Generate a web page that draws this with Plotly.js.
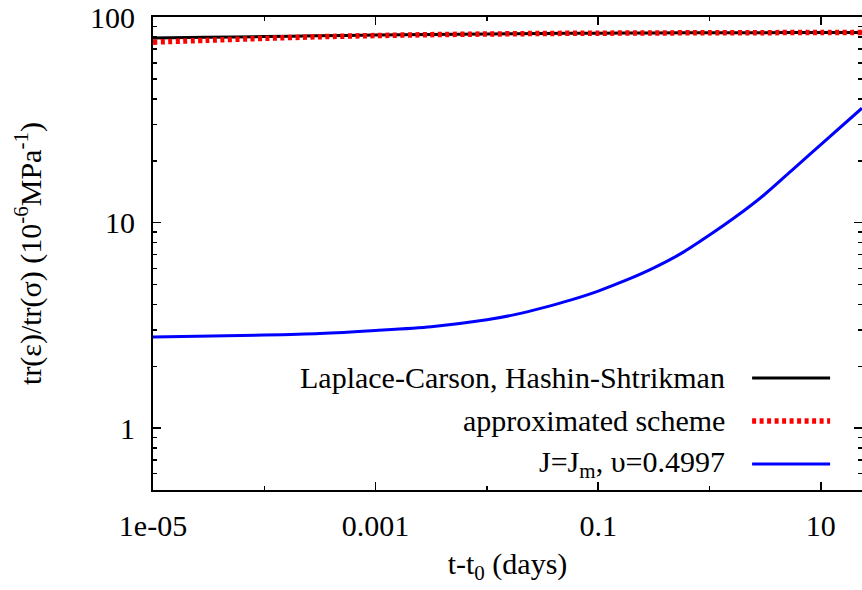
<!DOCTYPE html>
<html>
<head>
<meta charset="utf-8">
<script src="https://cdn.plot.ly/plotly-3.0.1.min.js"></script>
<style>html,body{margin:0;padding:0;background:#fff;}#plot{width:862px;height:590px;}</style>
</head>
<body>
<div id="plot"></div>
<script>
// time (days)
const tLC = [1e-5, 3e-5, 1e-4, 3e-4, 1e-3, 3e-3, 1e-2, 3e-2, 0.1, 0.3, 1, 3, 10, 23.4];
// Laplace-Carson, Hashin-Shtrikman
const yLC = [79.2, 79.9, 80.6, 81.3, 81.9, 82.5, 83.0, 83.4, 83.7, 83.9, 84.1, 84.2, 84.3, 84.4];
// approximated scheme
const yApprox = [75.7, 77.3, 79.0, 80.4, 81.5, 82.3, 82.9, 83.4, 83.7, 83.9, 84.1, 84.2, 84.3, 84.4];
// J=Jm, nu=0.4997
const tJm = [1e-5, 1e-4, 3.16e-4, 1e-3, 3.16e-3, 1e-2, 1.78e-2, 3.16e-2, 5.62e-2, 0.1, 0.178, 0.316, 0.562, 1, 1.78, 3.16, 5.62, 10, 23.4];
const yJm = [2.78, 2.84, 2.89, 2.99, 3.12, 3.37, 3.57, 3.85, 4.20, 4.65, 5.25, 6.03, 7.11, 8.71, 10.84, 13.8, 18.2, 24.0, 36.1];

const seriesNames = ["Laplace-Carson, Hashin-Shtrikman", "approximated scheme", "J=J<sub>m</sub>, υ=0.4997"];
const xTickVals = [1e-5, 1e-3, 0.1, 10];
const xTickText = ["1e-05", "0.001", "0.1", "10"];
const xMinorVals = [1e-4, 1e-2, 1];
const yTickVals = [1, 10, 100];
const yTickText = ["1", "10", "100"];
const yMinorVals = [0.5, 0.6, 0.7, 0.8, 0.9, 2, 3, 4, 5, 6, 7, 8, 9, 20, 30, 40, 50, 60, 70, 80, 90];

const FONT = "Liberation Serif, Times New Roman, serif";
const FS = 30;

const traces = [
  {x: tLC, y: yLC, mode: "lines", name: seriesNames[0], line: {color: "#000000", width: 3, shape: "spline", smoothing: 0.8}},
  {x: tLC, y: yApprox, mode: "lines", name: seriesNames[1], line: {color: "#ff0000", width: 5.5, dash: "4px,3.5px", shape: "spline", smoothing: 0.8}},
  {x: tJm, y: yJm, mode: "lines", name: seriesNames[2], line: {color: "#0000ff", width: 3, shape: "spline", smoothing: 0.8}}
];

const legendColors = ["#000000", "#ff0000", "#0000ff"];
const legendDash = ["solid", "4px,3.5px", "solid"];
const legendWidth = [3, 5.5, 3];
const legendY = [0.2368, 0.146, 0.055];
const annotations = [];
const shapes = [];
for (let i = 0; i < 3; i++) {
  annotations.push({xref: "paper", yref: "paper", x: 0.8096, y: legendY[i], xanchor: "right", yanchor: "middle",
    text: seriesNames[i], showarrow: false, font: {family: FONT, size: FS, color: "#000"}});
  shapes.push({type: "line", xref: "paper", yref: "paper", x0: 0.845, x1: 0.955, y0: legendY[i], y1: legendY[i],
    line: {color: legendColors[i], width: legendWidth[i], dash: legendDash[i]}});
}

const layout = {
  width: 862, height: 590,
  margin: {l: 153, r: 0, t: 17, b: 100},
  paper_bgcolor: "#fff", plot_bgcolor: "#fff",
  showlegend: false,
  font: {family: FONT, size: FS, color: "#000"},
  xaxis: {
    type: "log", range: [-5, 1.37],
    tickmode: "array", tickvals: xTickVals, ticktext: xTickText,
    ticks: "inside", ticklen: 8, tickwidth: 1.5, tickcolor: "#000",
    minor: {tickmode: "array", tickvals: xMinorVals, ticks: "inside", ticklen: 4, tickwidth: 1.5, tickcolor: "#000", showgrid: false},
    showline: true, linecolor: "#000", linewidth: 2, mirror: "ticks",
    showgrid: false, zeroline: false,
    ticklabelstandoff: 8,
    ticklabeloverflow: "allow",
    tickfont: {family: FONT, size: FS, color: "#000"},
    title: {text: "t-t<sub>0</sub> (days)", font: {family: FONT, size: FS, color: "#000"}, standoff: 12}
  },
  yaxis: {
    type: "log", range: [Math.log10(0.5), 2.0015],
    tickmode: "array", tickvals: yTickVals, ticktext: yTickText,
    ticks: "inside", ticklen: 8, tickwidth: 1.5, tickcolor: "#000",
    minor: {tickmode: "array", tickvals: yMinorVals, ticks: "inside", ticklen: 4, tickwidth: 1.5, tickcolor: "#000", showgrid: false},
    showline: true, linecolor: "#000", linewidth: 2, mirror: "ticks",
    showgrid: false, zeroline: false,
    ticklabelstandoff: 10,
    ticklabeloverflow: "allow",
    tickfont: {family: FONT, size: FS, color: "#000"},
    title: {text: "tr(ε)/tr(σ) (10<sup>-6</sup>MPa<sup>-1</sup>)", font: {family: FONT, size: FS, color: "#000"}, standoff: 40}
  },
  annotations: annotations,
  shapes: shapes
};

Plotly.newPlot("plot", traces, layout, {staticPlot: true, displayModeBar: false});
</script>
</body>
</html>
